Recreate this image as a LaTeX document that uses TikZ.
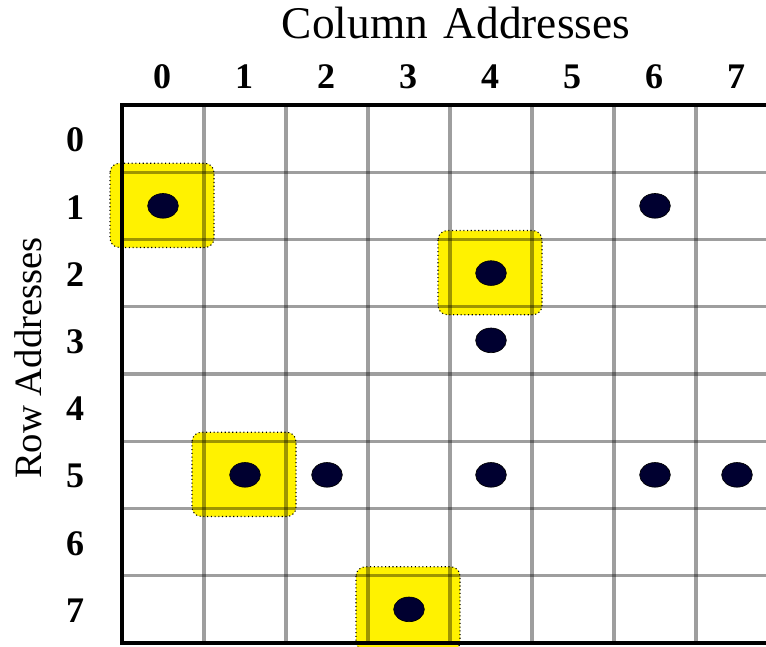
\documentclass[tikz,border=0pt]{standalone}
\usepackage{fontspec}
\setmainfont{Liberation Serif}
\usetikzlibrary{shapes.geometric}

\begin{document}
\begin{tikzpicture}[
    x=0.75pt, y=-0.75pt,
    every node/.style={inner sep=0pt},
    gridline/.style={line width=2.5pt, black, opacity=0.38},
    frame/.style={line width=2.4pt, black},
    hilite/.style={
        fill=yellow,
        draw=black,
        dotted,
        line width=0.8pt,
        rounded corners=7pt
    },
    bit/.style={
        ellipse,
        fill={rgb,255:red,0;green,0;blue,48},
        draw=black,
        line width=0.5pt,
        minimum width=23pt,
        minimum height=18.5pt
    },
    addr/.style={font=\fontsize{27}{32}\selectfont\bfseries},
    axis/.style={font=\fontsize{34}{40}\selectfont}
]
\useasboundingbox (0,0) rectangle (766,646);
\clip (0,0) rectangle (766,646);

% ------------------------
% Selected cells (yellow)
% ------------------------
\foreach \c/\r in {0/1, 4/2, 1/5, 3/7}
    \draw[hilite] ({110+82*\c},{96+67.25*\r}) rectangle ({214+82*\c},{180.25+67.25*\r});

% ------------------------
% Grid
% ------------------------
\foreach \i in {1,...,7} {
    \draw[gridline] ({122+82*\i},105) -- ({122+82*\i},643);
    \draw[gridline] (122,{105+67.25*\i}) -- (766,{105+67.25*\i});
}
\draw[frame] (766,105) -- (122,105) -- (122,643) -- (766,643);

% ------------------------
% Stored bits
% ------------------------
\foreach \c/\r in {0/1, 6/1, 4/2, 4/3, 1/5, 2/5, 4/5, 6/5, 7/5, 3/7}
    \node[bit] (bit-\c-\r) at ({163+82*\c},{138.6+67.25*\r}) {};

% ------------------------
% Addresses
% ------------------------
\foreach \i in {0,...,7} {
    \node[addr] (col\i) at ({162+82*\i},77) {\i};
    \node[addr] (row\i) at (75,{140+67.25*\i}) {\i};
}

\node[axis, anchor=base] (coltitle) at (456,38) {Column\hspace{0.35em}Addresses};
\node[axis, font=\fontsize{29}{34}\selectfont, rotate=90, anchor=base] (rowtitle) at (41,358) {Row Addresses};

\end{tikzpicture}
\end{document}
